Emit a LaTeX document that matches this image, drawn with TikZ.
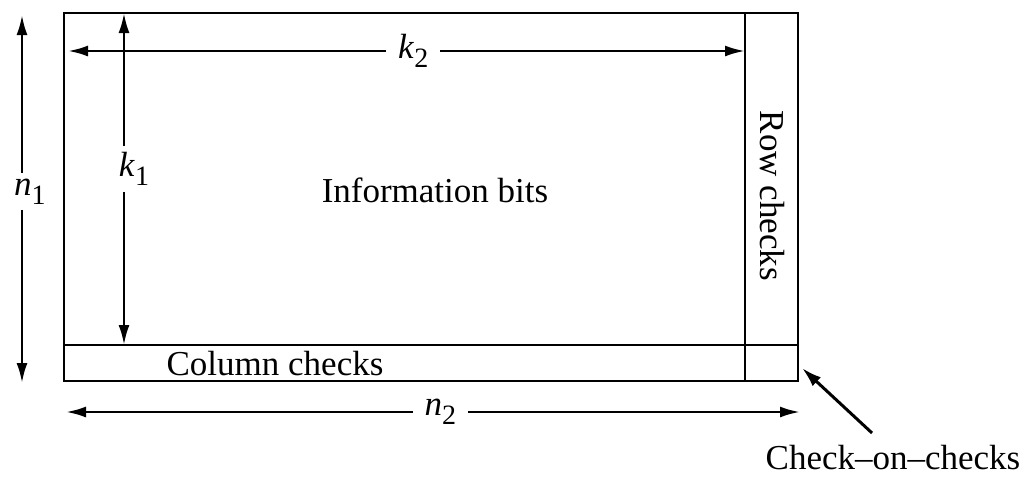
\documentclass[tikz,border=0pt]{standalone}
\usepackage{fontspec}
\setmainfont{Liberation Serif}
\usetikzlibrary{arrows.meta}

% italic letter with an upright index
\newcommand{\dimlbl}[2]{\textit{#1}\raisebox{-0.55ex}{\fontsize{14}{14}\selectfont #2}}

\begin{document}
\begin{tikzpicture}[x=0.5pt, y=-0.5pt, font=\fontsize{17.5}{20}\selectfont]
\tikzset{frame/.style={line width=1.3pt},
         dim/.style={line width=1.3pt, {Latex[length=10pt,width=5.5pt]}-{Latex[length=10pt,width=5.5pt]}},
         lbl/.style={fill=white, inner sep=3pt},
         pointer/.style={line width=1.5pt, -{Latex[length=10pt,width=6pt]}}}
\useasboundingbox (0,0) rectangle (1034,478);

% code array
\draw[frame] (64,13) rectangle (798,381);
\draw[frame] (745,13) -- (745,381);
\draw[frame] (64,345) -- (798,345);

\node (info)   at (435,190) {Information bits};
\node (rowchk) at (772,196) [rotate=-90] {Row checks};
\node (colchk) at (275,364) {Column checks};
\node (cc)     at (893,458) [inner sep=1pt] {Check--on--checks};

% end points of the dimension arrows
\coordinate (n1top) at (22,15);
\coordinate (n1bot) at (22,383);
\coordinate (k1top) at (124,13);
\coordinate (k1bot) at (124,345);
\coordinate (k2lft) at (68,51);
\coordinate (k2rgt) at (745,51);
\coordinate (n2lft) at (66,412);
\coordinate (n2rgt) at (800,412);
\coordinate (cctail) at (872,433);
\coordinate (cchead) at (802,368);

\draw[dim] (n1top) -- node[lbl, pos=0.48, xshift=4pt] {\dimlbl{n}{1}} (n1bot);
\draw[dim] (k1top) -- node[lbl, pos=0.47, xshift=5pt] {\dimlbl{k}{1}} (k1bot);
\draw[dim] (k2lft) -- node[lbl, pos=0.51, inner xsep=6pt] {\dimlbl{k}{2}} (k2rgt);
\draw[dim] (n2lft) -- node[lbl, pos=0.51, inner xsep=6pt] {\dimlbl{n}{2}} (n2rgt);

\draw[pointer] (cctail) -- (cchead);

\end{tikzpicture}
\end{document}
